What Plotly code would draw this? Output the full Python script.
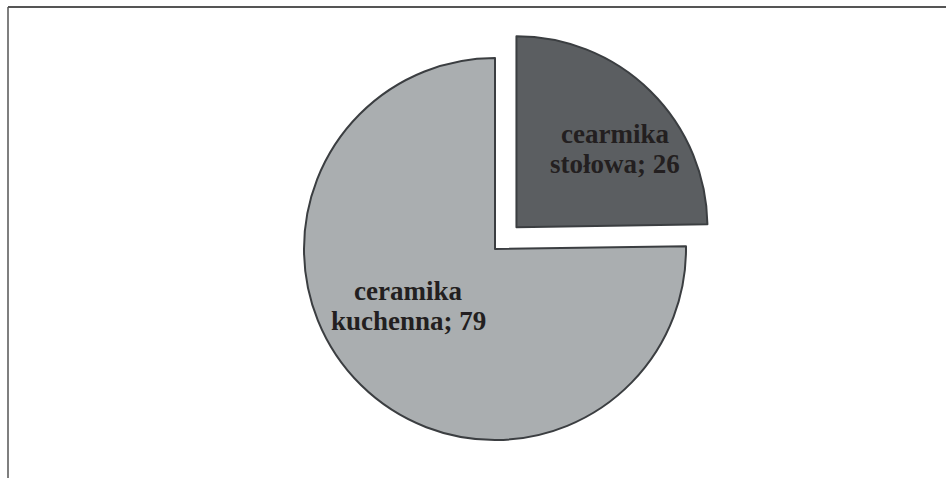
import plotly.graph_objects as go

labels = ["cearmika<br>stołowa", "ceramika<br>kuchenna"]
values = [26, 79]
colors = ["#5b5e61", "#aaaeb0"]
pulls = [0.16, 0]

W, H = 946, 478
cx, cy = 495, 249
r = 191
half = r * (1 + max(pulls))

# label block centres (pixels from top-left) and line spacing
label_pos = [(615, 149), (408, 306)]
line_gap = 30

fig = go.Figure(go.Pie(
    labels=labels,
    values=values,
    sort=False,
    direction="clockwise",
    rotation=0,
    pull=pulls,
    marker=dict(colors=colors, line=dict(color="#3b3e41", width=2)),
    textinfo="none",
    showlegend=False,
    hoverinfo="label+value",
    domain=dict(x=[(cx - half) / W, (cx + half) / W],
                y=[1 - (cy + half) / H, 1 - (cy - half) / H]),
))

annotations = []
for lab, val, (px, py) in zip(labels, values, label_pos):
    lines = f"{lab}; {val}".split("<br>")
    n = len(lines)
    for i, ln in enumerate(lines):
        yy = py + (i - (n - 1) / 2) * line_gap
        annotations.append(dict(
            x=px / W, y=1 - yy / H, xref="paper", yref="paper",
            text=f"<b>{ln}</b>", showarrow=False,
            xanchor="center", yanchor="middle",
            font=dict(family="Liberation Serif", size=27, color="#231f20"),
        ))

fig.update_layout(
    width=W, height=H,
    margin=dict(l=0, r=0, t=0, b=0),
    paper_bgcolor="white",
    plot_bgcolor="white",
    annotations=annotations,
    shapes=[
        dict(type="line", xref="paper", yref="paper",
             x0=8 / W, x1=1, y0=1 - 7 / H, y1=1 - 7 / H,
             line=dict(color="#555555", width=2)),
        dict(type="line", xref="paper", yref="paper",
             x0=8 / W, x1=8 / W, y0=0, y1=1 - 7 / H,
             line=dict(color="#555555", width=1.5)),
    ],
)

fig.write_html("out.html", config={"displayModeBar": False},
               post_script="document.body.style.margin='0';")
